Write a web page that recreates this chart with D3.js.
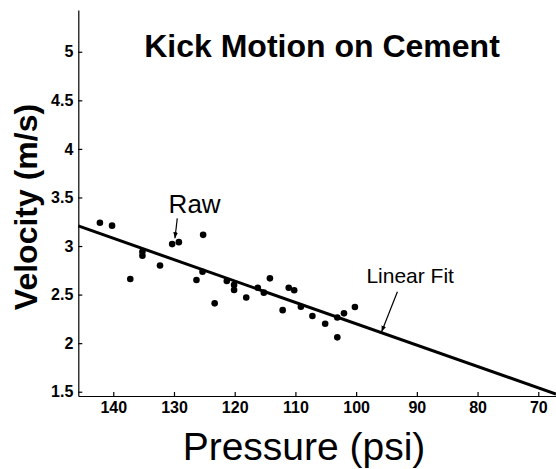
<!DOCTYPE html>
<meta charset="utf-8">
<script src="https://d3js.org/d3.v7.min.js"></script>
<style>
body { margin: 0; background: #fff; }
text { font-family: "Liberation Sans", Arial, sans-serif; fill: #000; }
.axis path, .axis line { stroke: #000; stroke-width: 1.2px; }
.axis text { font-size: 16px; font-weight: bold; font-family: "Liberation Sans", Arial, sans-serif; }
</style>
<div id="chart"></div>
<script>
var pressure = [142.2, 140.2, 135.2, 135.2, 137.2, 132.3, 130.3, 129.2, 125.2, 126.3,
                125.3, 123.3, 121.3, 120.1, 120.1, 118.1, 116.2, 115.2, 114.2, 112.1,
                111.1, 110.2, 109.1, 107.2, 105.1, 103.1, 103.1, 102.0, 100.2];
var velocity = [3.24, 3.21, 2.94, 2.90, 2.66, 2.80, 3.02, 3.04, 3.115, 2.65,
                2.735, 2.41, 2.64, 2.60, 2.547, 2.47, 2.57, 2.52, 2.667, 2.34,
                2.57, 2.545, 2.375, 2.28, 2.20, 2.06, 2.264, 2.307, 2.372];

// linear fit v = slope * p + intercept
var fitSlope = 0.0220, fitIntercept = 0.0;

var xTicks = [140, 130, 120, 110, 100, 90, 80, 70];
var yTicks = [1.5, 2, 2.5, 3, 3.5, 4, 4.5, 5];

var W = 556, H = 469;
var m = {left: 78.3, right: 556, top: 10, bottom: 396};

var svg = d3.select("#chart").append("svg")
  .attr("width", W).attr("height", H);

// x axis runs from high pressure to low pressure
var x = d3.scaleLinear().domain([145.76, 67.08]).range([m.left, m.right]);
var y = d3.scaleLinear().domain([1.456, 5.43]).range([m.bottom, m.top]);

svg.append("g")
  .attr("class", "axis")
  .attr("transform", "translate(0," + m.bottom + ")")
  .call(d3.axisBottom(x).tickValues(xTicks).tickSizeInner(-4).tickSizeOuter(0).tickPadding(6));

svg.append("g")
  .attr("class", "axis")
  .attr("transform", "translate(" + m.left + ",0)")
  .call(d3.axisLeft(y).tickValues(yTicks).tickSizeInner(-4).tickSizeOuter(0).tickPadding(5)
    .tickFormat(function(d) { return d; }));

// fit line across the whole x range
var xd = x.domain();
svg.append("line")
  .attr("x1", x(xd[0])).attr("y1", y(fitSlope * xd[0] + fitIntercept))
  .attr("x2", x(xd[1])).attr("y2", y(fitSlope * xd[1] + fitIntercept))
  .attr("stroke", "#000").attr("stroke-width", 3);

// raw dots
svg.append("g")
  .selectAll("circle")
  .data(pressure)
  .enter()
  .append("circle")
    .attr("cx", function(d) { return x(d); })
    .attr("cy", function(d, i) { return y(velocity[i]); })
    .attr("r", 3.3)
    .attr("fill", "#000");

// title
svg.append("text")
  .attr("x", 322).attr("y", 56.7)
  .attr("text-anchor", "middle")
  .style("font-size", "32px").style("font-weight", "bold")
  .text("Kick Motion on Cement");

// axis labels
svg.append("text")
  .attr("transform", "translate(37,207) rotate(-90)")
  .attr("text-anchor", "middle")
  .style("font-size", "32px").style("font-weight", "bold")
  .text("Velocity (m/s)");

svg.append("text")
  .attr("x", 304).attr("y", 460)
  .attr("text-anchor", "middle")
  .style("font-size", "39px")
  .text("Pressure (psi)");

// annotations
svg.append("defs").append("marker")
  .attr("id", "arr")
  .attr("viewBox", "0 0 10 10")
  .attr("refX", 10).attr("refY", 5)
  .attr("markerWidth", 5).attr("markerHeight", 5)
  .attr("orient", "auto")
  .append("path").attr("d", "M0,1 L10,5 L0,9 Z").attr("fill", "#000");

svg.append("text")
  .attr("x", x(126.6)).attr("y", y(3.337))
  .attr("text-anchor", "middle")
  .style("font-size", "26px")
  .text("Raw");
svg.append("line")
  .attr("x1", x(129.46)).attr("y1", y(3.285))
  .attr("x2", x(129.84)).attr("y2", y(3.08))
  .attr("stroke", "#000").attr("stroke-width", 1.2)
  .attr("marker-end", "url(#arr)");

svg.append("text")
  .attr("x", x(91.1)).attr("y", y(2.616))
  .attr("text-anchor", "middle")
  .style("font-size", "21px")
  .text("Linear Fit");
svg.append("line")
  .attr("x1", x(93.2)).attr("y1", y(2.53))
  .attr("x2", x(95.8)).attr("y2", y(2.118))
  .attr("stroke", "#000").attr("stroke-width", 1.2)
  .attr("marker-end", "url(#arr)");
</script>
